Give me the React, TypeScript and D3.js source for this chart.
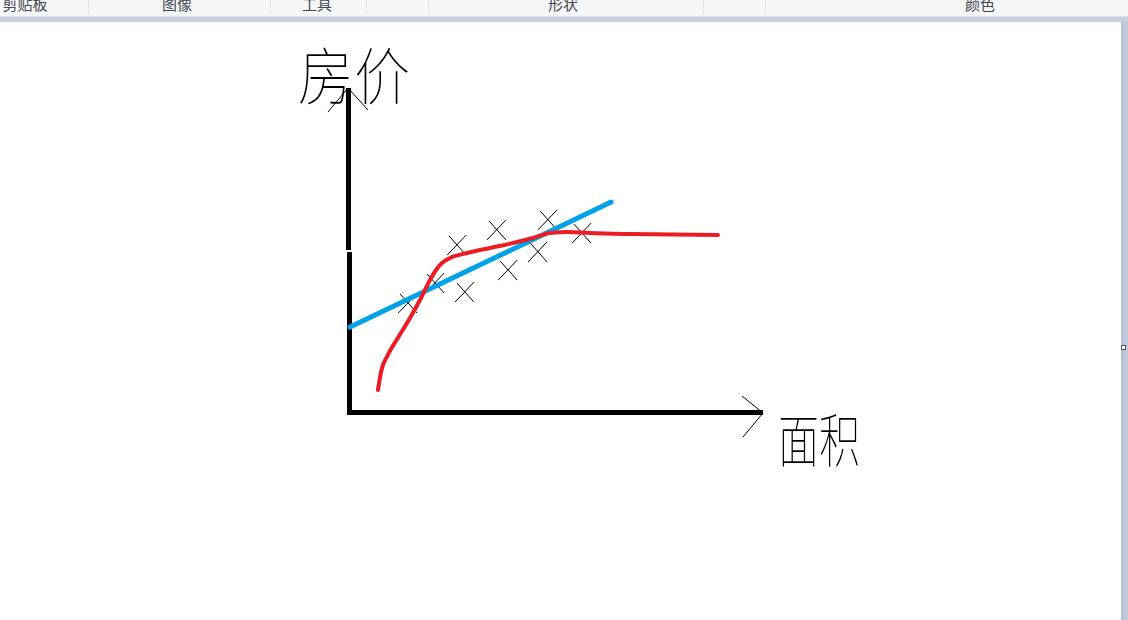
import React from "react";
import * as d3 from "d3";

// Toolbar (MS Paint ribbon group labels) and separators
const toolbarLabels = ["剪贴板", "图像", "工具", "形状", "颜色"];
const toolbarLabelCenters = [25, 177, 317, 563, 980];
const toolbarSeparators = [88, 270, 366, 428, 703, 765];

// Axis labels
const yLabel = "房价";
const xLabel = "面积";

// Data (area 0–100, price 0–100)
const sampleArea = [14.5, 21.0, 26.3, 28.2, 35.9, 38.6, 45.8, 48.2, 56.4];
const samplePrice = [33.6, 39.8, 51.5, 37.0, 56.2, 43.8, 49.4, 59.3, 55.2];

const linearFitArea = [0.5, 63.4];
const linearFitPrice = [26.2, 64.8];

const curveFitArea = [7.23, 7.95, 9.6, 12.0, 14.94, 17.59, 19.76, 21.2, 22.65, 24.58, 28.67, 34.22, 39.76, 44.58, 48.67, 52.77, 58.31, 67.95, 89.16];
const curveFitPrice = [6.79, 12.35, 17.59, 22.84, 29.01, 35.19, 40.74, 43.83, 45.99, 47.53, 49.07, 50.62, 52.16, 53.7, 55.25, 55.56, 55.25, 54.94, 54.63];

export default function App() {
  const W = 1128, H = 620;
  const x = d3.scaleLinear().domain([0, 100]).range([348, 763]);
  const y = d3.scaleLinear().domain([0, 100]).range([412, 88]);

  const line = d3.line<[number, number]>().x(d => x(d[0])).y(d => y(d[1]));
  const curve = d3.line<[number, number]>().x(d => x(d[0])).y(d => y(d[1])).curve(d3.curveMonotoneX);

  const bluePts: [number, number][] = linearFitArea.map((a, i) => [a, linearFitPrice[i]]);
  const redPts: [number, number][] = curveFitArea.map((a, i) => [a, curveFitPrice[i]]);

  const x0 = x(0), y0 = y(0), yTop = y(100), xEnd = x(100);

  return (
    <svg width={W} height={H} style={{ position: "absolute", left: 0, top: 0, display: "block" }}>
      <defs>
        <linearGradient id="side" x1="0" x2="1" y1="0" y2="0">
          <stop offset="0" stopColor="#b3c0d3" />
          <stop offset="1" stopColor="#c3cddc" />
        </linearGradient>
      </defs>
      <rect x={0} y={0} width={W} height={H} fill="#c8d1e0" />
      {/* toolbar */}
      <rect x={0} y={0} width={W} height={16} fill="#f5f6f7" />
      <rect x={0} y={16} width={W} height={1} fill="#dde2ea" />
      {toolbarSeparators.map((s, i) => (
        <rect key={i} x={s} y={0} width={1} height={14} fill="#e2e4e8" />
      ))}
      {toolbarLabels.map((t, i) => (
        <text key={i} x={toolbarLabelCenters[i]} y={10} textAnchor="middle"
          fontFamily="'Noto Sans CJK SC', sans-serif" fontSize={15} fill="#454a52">{t}</text>
      ))}
      {/* canvas */}
      <rect x={0} y={22} width={1121} height={H - 22} fill="#ffffff" />
      <rect x={1121} y={22} width={7} height={H - 22} fill="url(#side)" />
      <rect x={1121.5} y={345.5} width={4} height={4} fill="#ffffff" stroke="#555" strokeWidth={1} />

      {/* axes */}
      <line x1={x0 + 0.5} y1={yTop} x2={x0 + 0.5} y2={250} stroke="#000" strokeWidth={5} />
      <line x1={x0 + 1.5} y1={252} x2={x0 + 1.5} y2={y0 + 3} stroke="#000" strokeWidth={5} />
      <line x1={x0 - 1} y1={y0 + 0.5} x2={xEnd} y2={y0 + 0.5} stroke="#000" strokeWidth={5} />
      {/* arrow heads */}
      <path d={`M${x0 - 20},${yTop + 24} L${x0},${yTop} L${x0 + 20},${yTop + 22}`} fill="none" stroke="#000" strokeWidth={1} />
      <path d={`M${xEnd - 21},${y0 - 16} L${xEnd},${y0 + 1} L${xEnd - 20},${y0 + 25}`} fill="none" stroke="#000" strokeWidth={1} />

      {/* axis labels */}
      <text x={298} y={100} fontFamily="'Noto Sans CJK SC', sans-serif" fontWeight={100} fontSize={62}
        textLength={112} lengthAdjust="spacingAndGlyphs" fill="#000">{yLabel}</text>
      <text x={778} y={462} fontFamily="'Noto Sans CJK SC', sans-serif" fontWeight={100} fontSize={58}
        textLength={82} lengthAdjust="spacingAndGlyphs" fill="#000">{xLabel}</text>

      {/* sample crosses */}
      {sampleArea.map((a, i) => {
        const cx = x(a), cy = y(samplePrice[i]);
        return (
          <g key={i} stroke="#000" strokeWidth={1} fill="none">
            <line x1={cx - 10} y1={cy + 10} x2={cx + 9} y2={cy - 10} />
            <line x1={cx - 8} y1={cy - 9} x2={cx + 9} y2={cy + 10} />
          </g>
        );
      })}

      {/* linear fit */}
      <path d={line(bluePts) || ""} fill="none" stroke="#00a2e8" strokeWidth={5} strokeLinecap="round" />
      {/* curve fit */}
      <path d={curve(redPts) || ""} fill="none" stroke="#ed1c24" strokeWidth={4} strokeLinecap="round" strokeLinejoin="round" />
    </svg>
  );
}
